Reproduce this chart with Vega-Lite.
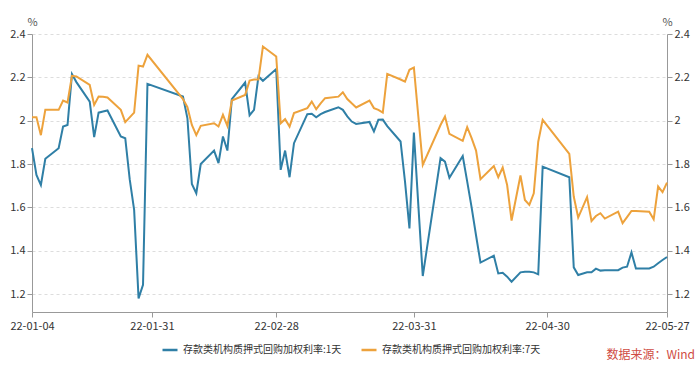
{
  "$schema": "https://vega.github.io/schema/vega-lite/v6.json",
  "width": 635,
  "height": 278,
  "autosize": {"type": "none"},
  "padding": {"left": 32, "top": 34, "right": 33, "bottom": 58},
  "background": "white",
  "config": {"font": "Noto Sans CJK SC", "view": {"stroke": null}},
  "data": {
    "values": [
      {"date": "2022-01-04", "1天": 1.873, "7天": 2.016},
      {"date": "2022-01-05", "1天": 1.75, "7天": 2.016},
      {"date": "2022-01-06", "1天": 1.703, "7天": 1.933},
      {"date": "2022-01-07", "1天": 1.824, "7天": 2.05},
      {"date": "2022-01-10", "1天": 1.873, "7天": 2.05},
      {"date": "2022-01-11", "1天": 1.973, "7天": 2.093},
      {"date": "2022-01-12", "1天": 1.98, "7天": 2.084},
      {"date": "2022-01-13", "1天": 2.215, "7天": 2.207},
      {"date": "2022-01-14", "1天": 2.178, "7天": 2.204},
      {"date": "2022-01-17", "1天": 2.088, "7天": 2.165},
      {"date": "2022-01-18", "1天": 1.924, "7天": 2.073},
      {"date": "2022-01-19", "1天": 2.037, "7天": 2.111},
      {"date": "2022-01-20", "1天": 2.042, "7天": 2.11},
      {"date": "2022-01-21", "1天": 2.047, "7天": 2.107},
      {"date": "2022-01-24", "1天": 1.927, "7天": 2.05},
      {"date": "2022-01-25", "1天": 1.919, "7天": 1.993},
      {"date": "2022-01-26", "1天": 1.73, "7天": 2.015},
      {"date": "2022-01-27", "1天": 1.588, "7天": 2.037},
      {"date": "2022-01-28", "1天": 1.18, "7天": 2.254},
      {"date": "2022-01-29", "1天": 1.242, "7天": 2.25},
      {"date": "2022-01-30", "1天": 2.17, "7天": 2.304},
      {"date": "2022-02-07", "1天": 2.111, "7天": 2.1},
      {"date": "2022-02-08", "1天": 2.011, "7天": 2.062},
      {"date": "2022-02-09", "1天": 1.708, "7天": 1.98},
      {"date": "2022-02-10", "1天": 1.665, "7天": 1.933},
      {"date": "2022-02-11", "1天": 1.8, "7天": 1.976},
      {"date": "2022-02-14", "1天": 1.862, "7天": 1.988},
      {"date": "2022-02-15", "1天": 1.804, "7天": 1.973},
      {"date": "2022-02-16", "1天": 1.927, "7天": 2.027},
      {"date": "2022-02-17", "1天": 1.862, "7天": 1.976},
      {"date": "2022-02-18", "1天": 2.099, "7天": 2.093},
      {"date": "2022-02-21", "1天": 2.176, "7天": 2.119},
      {"date": "2022-02-22", "1天": 2.025, "7天": 2.185},
      {"date": "2022-02-23", "1天": 2.05, "7天": 2.19},
      {"date": "2022-02-24", "1天": 2.204, "7天": 2.19},
      {"date": "2022-02-25", "1天": 2.184, "7天": 2.342},
      {"date": "2022-02-28", "1天": 2.238, "7天": 2.296},
      {"date": "2022-03-01", "1天": 1.773, "7天": 1.988},
      {"date": "2022-03-02", "1天": 1.862, "7天": 2.007},
      {"date": "2022-03-03", "1天": 1.739, "7天": 1.973},
      {"date": "2022-03-04", "1天": 1.896, "7天": 2.035},
      {"date": "2022-03-07", "1天": 2.03, "7天": 2.058},
      {"date": "2022-03-08", "1天": 2.032, "7天": 2.088},
      {"date": "2022-03-09", "1天": 2.016, "7天": 2.053},
      {"date": "2022-03-10", "1天": 2.03, "7天": 2.08},
      {"date": "2022-03-11", "1天": 2.04, "7天": 2.104},
      {"date": "2022-03-14", "1天": 2.062, "7天": 2.111},
      {"date": "2022-03-15", "1天": 2.05, "7天": 2.131},
      {"date": "2022-03-16", "1天": 2.02, "7天": 2.1},
      {"date": "2022-03-17", "1天": 1.996, "7天": 2.08},
      {"date": "2022-03-18", "1天": 1.985, "7天": 2.061},
      {"date": "2022-03-21", "1天": 1.994, "7天": 2.093},
      {"date": "2022-03-22", "1天": 1.95, "7天": 2.058},
      {"date": "2022-03-23", "1天": 2.004, "7天": 2.05},
      {"date": "2022-03-24", "1天": 2.005, "7天": 2.037},
      {"date": "2022-03-25", "1天": 1.975, "7天": 2.216},
      {"date": "2022-03-28", "1天": 1.904, "7天": 2.19},
      {"date": "2022-03-29", "1天": 1.719, "7天": 2.18},
      {"date": "2022-03-30", "1天": 1.503, "7天": 2.235},
      {"date": "2022-03-31", "1天": 1.945, "7天": 2.245},
      {"date": "2022-04-01", "1天": 1.61, "7天": 2.02},
      {"date": "2022-04-02", "1天": 1.283, "7天": 1.796},
      {"date": "2022-04-06", "1天": 1.827, "7天": 1.98},
      {"date": "2022-04-07", "1天": 1.811, "7天": 2.019},
      {"date": "2022-04-08", "1天": 1.737, "7天": 1.939},
      {"date": "2022-04-11", "1天": 1.837, "7天": 1.907},
      {"date": "2022-04-12", "1天": 1.72, "7天": 1.97},
      {"date": "2022-04-13", "1天": 1.6, "7天": 1.919},
      {"date": "2022-04-14", "1天": 1.47, "7天": 1.862},
      {"date": "2022-04-15", "1天": 1.345, "7天": 1.73},
      {"date": "2022-04-18", "1天": 1.377, "7天": 1.791},
      {"date": "2022-04-19", "1天": 1.295, "7天": 1.739},
      {"date": "2022-04-20", "1天": 1.298, "7天": 1.784},
      {"date": "2022-04-21", "1天": 1.28, "7天": 1.703},
      {"date": "2022-04-22", "1天": 1.257, "7天": 1.539},
      {"date": "2022-04-24", "1天": 1.3, "7天": 1.747},
      {"date": "2022-04-25", "1天": 1.303, "7天": 1.634},
      {"date": "2022-04-26", "1天": 1.303, "7天": 1.611},
      {"date": "2022-04-27", "1天": 1.3, "7天": 1.665},
      {"date": "2022-04-28", "1天": 1.291, "7天": 1.903},
      {"date": "2022-04-29", "1天": 1.788, "7天": 2.004},
      {"date": "2022-05-05", "1天": 1.739, "7天": 1.847},
      {"date": "2022-05-06", "1天": 1.323, "7天": 1.65},
      {"date": "2022-05-07", "1天": 1.288, "7天": 1.553},
      {"date": "2022-05-09", "1天": 1.3, "7天": 1.647},
      {"date": "2022-05-10", "1天": 1.3, "7天": 1.537},
      {"date": "2022-05-11", "1天": 1.317, "7天": 1.56},
      {"date": "2022-05-12", "1天": 1.308, "7天": 1.573},
      {"date": "2022-05-13", "1天": 1.31, "7天": 1.548},
      {"date": "2022-05-16", "1天": 1.31, "7天": 1.58},
      {"date": "2022-05-17", "1天": 1.322, "7天": 1.527},
      {"date": "2022-05-18", "1天": 1.326, "7天": 1.555},
      {"date": "2022-05-19", "1天": 1.392, "7天": 1.583},
      {"date": "2022-05-20", "1天": 1.318, "7天": 1.583},
      {"date": "2022-05-23", "1天": 1.318, "7天": 1.58},
      {"date": "2022-05-24", "1天": 1.326, "7天": 1.545},
      {"date": "2022-05-25", "1天": 1.342, "7天": 1.696},
      {"date": "2022-05-26", "1天": 1.357, "7天": 1.67},
      {"date": "2022-05-27", "1天": 1.371, "7天": 1.714}
    ]
  },
  "transform": [{"fold": ["1天", "7天"], "as": ["series", "value"]}],
  "title": {
    "text": "数据来源：Wind",
    "orient": "bottom",
    "anchor": "end",
    "frame": "group",
    "dx": 28,
    "offset": -5,
    "fontSize": 12,
    "fontWeight": "normal",
    "color": "#cf4b43"
  },
  "encoding": {
    "x": {
      "field": "date",
      "type": "temporal",
      "scale": {
        "type": "utc",
        "domain": [
          {"year": 2022, "month": 1, "date": 4, "utc": true},
          {"year": 2022, "month": 5, "date": 27, "utc": true}
        ]
      },
      "axis": {
        "title": null,
        "values": [
          {"year": 2022, "month": 1, "date": 4, "utc": true},
          {"year": 2022, "month": 1, "date": 31, "utc": true},
          {"year": 2022, "month": 2, "date": 28, "utc": true},
          {"year": 2022, "month": 3, "date": 31, "utc": true},
          {"year": 2022, "month": 4, "date": 30, "utc": true},
          {"year": 2022, "month": 5, "date": 27, "utc": true}
        ],
        "format": "%y-%m-%d",
        "grid": false,
        "tickSize": 5,
        "labelPadding": 3,
        "labelFontSize": 11,
        "labelColor": "#333333",
        "labelFlush": false,
        "labelOverlap": false,
        "domainColor": "#999999",
        "tickColor": "#999999"
      }
    },
    "color": {
      "field": "series",
      "type": "nominal",
      "scale": {"domain": ["1天", "7天"], "range": ["#2f7fa6", "#eda23c"]},
      "legend": {
        "title": null,
        "orient": "none",
        "legendX": 129,
        "legendY": 307,
        "direction": "horizontal",
        "symbolType": "stroke",
        "symbolStrokeWidth": 2.5,
        "symbolSize": 225,
        "labelFontSize": 10,
        "labelColor": "#333333",
        "labelLimit": 300,
        "columnPadding": 14,
        "labelExpr": "'存款类机构质押式回购加权利率:' + datum.label"
      }
    }
  },
  "layer": [
    {
      "transform": [{"filter": "datum.series === '1天'"}],
      "mark": {"type": "line", "strokeWidth": 2},
      "encoding": {
        "y": {
          "field": "value",
          "type": "quantitative",
          "scale": {"domain": [1.117, 2.4], "nice": false, "zero": false},
          "axis": {
            "orient": "left",
            "values": [1.2, 1.4, 1.6, 1.8, 2, 2.2, 2.4],
            "format": "~g",
            "title": "%",
            "titleAngle": 0,
            "titleX": 0,
            "titleY": -9,
            "titleAlign": "center",
            "titleBaseline": "alphabetic",
            "titleFontSize": 11,
            "titleFontWeight": "normal",
            "titleColor": "#555555",
            "tickSize": 5,
            "labelPadding": 2,
            "labelFontSize": 11,
            "labelColor": "#333333",
            "domainColor": "#999999",
            "tickColor": "#999999",
            "grid": true,
            "gridColor": "#dddddd",
            "gridDash": [3, 3]
          }
        }
      }
    },
    {
      "transform": [{"filter": "datum.series === '7天'"}],
      "mark": {"type": "line", "strokeWidth": 2},
      "encoding": {
        "y": {
          "field": "value",
          "type": "quantitative",
          "scale": {"domain": [1.117, 2.4], "nice": false, "zero": false},
          "axis": {
            "orient": "right",
            "values": [1.2, 1.4, 1.6, 1.8, 2, 2.2, 2.4],
            "format": "~g",
            "title": "%",
            "titleAngle": 0,
            "titleX": 0,
            "titleY": -9,
            "titleAlign": "center",
            "titleBaseline": "alphabetic",
            "titleFontSize": 11,
            "titleFontWeight": "normal",
            "titleColor": "#555555",
            "tickSize": 5,
            "labelPadding": 2,
            "labelFontSize": 11,
            "labelColor": "#333333",
            "domainColor": "#999999",
            "tickColor": "#999999",
            "grid": false
          }
        }
      }
    }
  ],
  "resolve": {"scale": {"y": "independent"}}
}
